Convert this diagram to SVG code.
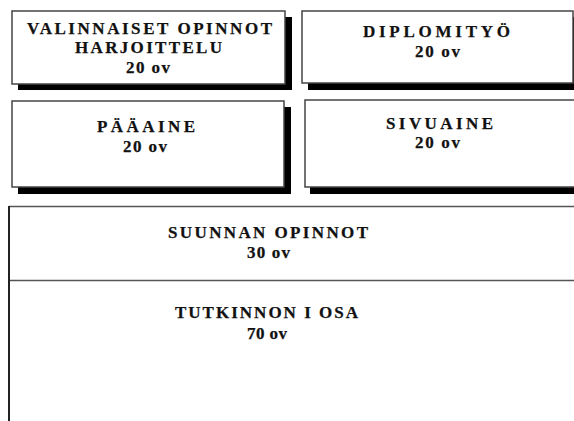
<svg xmlns="http://www.w3.org/2000/svg" width="574" height="421" viewBox="0 0 574 421">
  <style>
    .shadow { fill: #000; }
    .box { fill: #fff; stroke: #444; stroke-width: 1.5; }
    .rule { stroke: #555; stroke-width: 1.5; fill: none; }
    .edge { stroke: #222; stroke-width: 2; fill: none; }
    text { font-family: "Liberation Serif", "Times New Roman", serif; font-weight: bold; font-size: 17px; fill: #111; stroke: #111; stroke-width: 0.25; }
  </style>
  <rect width="574" height="421" fill="#fff"/>

  <!-- upper blocks with drop shadows -->
  <g id="valinnaiset">
    <rect class="shadow" x="18" y="17" width="274" height="73"/>
    <rect class="box" x="12" y="11" width="273" height="73"/>
    <text x="27" y="34" textLength="245" lengthAdjust="spacing">VALINNAISET OPINNOT</text>
    <text x="75" y="53" textLength="147" lengthAdjust="spacing">HARJOITTELU</text>
    <text x="126" y="73" textLength="44" lengthAdjust="spacing">20 ov</text>
  </g>

  <g id="diplomityo">
    <rect class="shadow" x="308" y="17" width="280" height="73"/>
    <rect class="box" x="302" y="11" width="271" height="72"/>
    <text x="363" y="37" textLength="147" lengthAdjust="spacing">DIPLOMITYÖ</text>
    <text x="415" y="57" textLength="45" lengthAdjust="spacing">20 ov</text>
  </g>

  <g id="paaaine">
    <rect class="shadow" x="18" y="107" width="273" height="87"/>
    <rect class="box" x="12" y="101" width="272" height="86"/>
    <text x="97" y="132" textLength="98" lengthAdjust="spacing">PÄÄAINE</text>
    <text x="123" y="152" textLength="44" lengthAdjust="spacing">20 ov</text>
  </g>

  <g id="sivuaine">
    <rect class="shadow" x="310" y="107" width="280" height="87"/>
    <rect class="box" x="305" y="100" width="280" height="87"/>
    <text x="386" y="129" textLength="107" lengthAdjust="spacing">SIVUAINE</text>
    <text x="415" y="148" textLength="45" lengthAdjust="spacing">20 ov</text>
  </g>

  <!-- lower open block -->
  <g id="suunnan">
    <line class="rule" x1="9" y1="206.5" x2="574" y2="206.5"/>
    <text x="168" y="238" textLength="200" lengthAdjust="spacing">SUUNNAN OPINNOT</text>
    <text x="247" y="258" textLength="43" lengthAdjust="spacing">30 ov</text>
  </g>

  <g id="tutkinnon">
    <line class="rule" x1="9" y1="280.5" x2="574" y2="280.5"/>
    <text x="175" y="318" textLength="183" lengthAdjust="spacing">TUTKINNON I OSA</text>
    <text x="247" y="339" textLength="40" lengthAdjust="spacing">70 ov</text>
  </g>

  <g id="connectors">
    <line class="edge" x1="9" y1="206" x2="9" y2="421"/>
  </g>
</svg>
